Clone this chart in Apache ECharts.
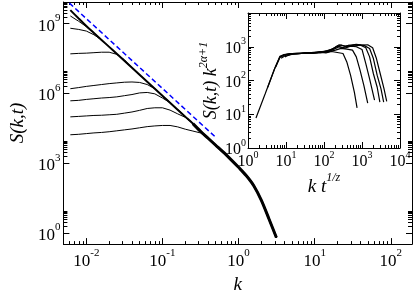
<!DOCTYPE html>
<html><head><meta charset="utf-8">
<script src="https://cdn.jsdelivr.net/npm/echarts@6/dist/echarts.min.js"></script>
<style>html,body{margin:0;padding:0;background:#fff}#c{width:415px;height:299px}</style>
</head><body><div id="c"></div>
<script>
// ---------- main panel data (log10 values) ----------
const mainLogK = [-2.21,-2.1,-2.0,-1.9,-1.8,-1.7,-1.6,-1.5,-1.4,-1.3,-1.2,-1.1,-1.0,-0.9,-0.8,-0.7,-0.6,-0.5,-0.4,-0.3,-0.2,-0.1,0.0,0.1,0.2,0.3,0.4,0.497];
const envelopeLogS = [9.58,9.22,8.9,8.6,8.3,8.0,7.7,7.4,7.1,6.8,6.5,6.2,5.9,5.6,5.3,5.0,4.7,4.37,4.07,3.77,3.47,3.15,2.82,2.47,2.03,1.4,0.6,-0.2];
const curveA_logS = [9.33,9.1,8.87];
const curveB_logS = [8.8,8.75,8.68,8.52,8.3];
const curveC_logS = [7.70,7.72,7.73,7.75,7.77,7.77,7.68,7.45];
const curveD_logS = [6.20,6.25,6.30,6.34,6.38,6.42,6.45,6.48,6.49,6.47,6.38,6.2];
const curveE_logS = [5.68,5.7,5.74,5.77,5.8,5.82,5.85,5.9,5.95,6.02,6.04,5.98,5.8,5.6];
const curveF_logS = [4.99,5.01,5.03,5.05,5.06,5.08,5.1,5.15,5.2,5.27,5.35,5.38,5.38,5.28,5.12,4.97,4.7];
const curveG_logS = [4.22,4.24,4.27,4.3,4.32,4.35,4.39,4.43,4.47,4.52,4.57,4.6,4.62,4.62,4.56,4.46,4.38,4.3,4.07];
const dashedK = [0.006, 0.5];
const dashedS = [7.6e9, 1.3e4];
const mainYMinorTicks = [2,3,4,5,6,7,8,9, 2e3,3e3,4e3,5e3,6e3,7e3,8e3,9e3, 2e6,3e6,4e6,5e6,6e6,7e6,8e6,9e6, 2e9,3e9,4e9,5e9,6e9,7e9,8e9];

// ---------- inset data: [log10(k t^{1/z}), log10(S k^{2a+1})] ----------
const insetC1 = [[0.21,0.89],[0.45,1.6],[0.7,2.35],[0.84,2.72],[0.95,2.77],[1.1,2.8],[1.3,2.79],[1.5,2.82],[1.7,2.81],[1.9,2.84],[2.05,2.82],[2.2,2.86],[2.35,2.83],[2.5,2.8],[2.6,2.55],[2.7,2.15],[2.8,1.65],[2.87,1.19]];
const insetC2 = [[0.52,1.8],[0.7,2.35],[0.84,2.7],[0.95,2.76],[1.1,2.79],[1.3,2.81],[1.5,2.8],[1.7,2.83],[1.9,2.82],[2.1,2.85],[2.3,2.9],[2.45,2.95],[2.6,2.93],[2.75,2.9],[2.85,2.7],[2.95,2.3],[3.05,1.85],[3.15,1.33]];
const insetC3 = [[0.73,2.4],[0.84,2.68],[0.95,2.75],[1.1,2.78],[1.3,2.8],[1.5,2.82],[1.7,2.8],[1.9,2.84],[2.1,2.86],[2.25,2.92],[2.4,3.0],[2.55,2.96],[2.7,3.02],[2.85,3.0],[3.0,2.92],[3.1,2.5],[3.2,2.05],[3.33,1.42]];
const insetC4 = [[0.87,2.66],[1.0,2.75],[1.2,2.79],[1.4,2.8],[1.6,2.83],[1.8,2.82],[2.0,2.85],[2.2,2.9],[2.35,3.02],[2.5,2.97],[2.65,3.04],[2.8,3.02],[2.95,3.05],[3.1,2.97],[3.2,2.7],[3.3,2.2],[3.4,1.8],[3.47,1.36]];
const insetC5 = [[0.97,2.7],[1.1,2.77],[1.3,2.8],[1.5,2.81],[1.7,2.82],[1.9,2.85],[2.1,2.88],[2.3,2.98],[2.45,3.05],[2.6,3.0],[2.75,3.04],[2.9,3.06],[3.05,3.04],[3.2,2.95],[3.3,2.65],[3.4,2.15],[3.5,1.75],[3.57,1.36]];
const insetC6 = [[1.05,2.74],[1.2,2.79],[1.4,2.8],[1.6,2.82],[1.8,2.84],[2.0,2.86],[2.2,2.92],[2.4,3.06],[2.55,3.02],[2.7,3.05],[2.85,3.07],[3.0,3.05],[3.15,3.06],[3.28,2.97],[3.38,2.65],[3.48,2.2],[3.58,1.75],[3.65,1.38]];

const FONT = 'Liberation Serif';
const p10 = e => Math.pow(10, e);
function mainCurve(own){
  const full = own.concat(envelopeLogS.slice(own.length));
  return mainLogK.map((lk, i) => [p10(lk), p10(full[i])]);
}
function insetCurve(arr){ return arr.map(d => [p10(d[0]), p10(d[1])]); }
function supLabel(v){
  const l = Math.log10(v), e = Math.round(l);
  if (Math.abs(l - e) > 1e-6) return '';
  return '{b|10}{s|' + e + '}';
}
const rich = {
  b: {fontFamily: FONT, fontSize: 17, lineHeight: 22, verticalAlign: 'bottom', color: '#000'},
  s: {fontFamily: FONT, fontSize: 11, verticalAlign: 'top', color: '#000'}
};
const richSmall = {
  b: {fontFamily: FONT, fontSize: 16, lineHeight: 20, verticalAlign: 'bottom', color: '#000'},
  s: {fontFamily: FONT, fontSize: 10, verticalAlign: 'top', color: '#000'}
};
const line = {show: true, lineStyle: {color: '#000', width: 1}};

function logAxis(extra){
  return Object.assign({
    type: 'log', logBase: 10, axisLine: line,
    axisTick: {show: true, inside: true, length: 6, lineStyle: {color: '#000'}},
    minorTick: {show: true, splitNumber: 9, length: 3, lineStyle: {color: '#000'}},
    splitLine: {show: false}, minorSplitLine: {show: false},
    axisLabel: {show: false}
  }, extra);
}

const mainXRange = {min: 0.005, max: 190};
const mainYRange = {min: 0.33, max: 8.5e9};
const insetXRange = {min: 1, max: 1e4};
const insetYRange = {min: 1, max: 1e4};

const mainSeries = [curveA_logS, curveB_logS, curveC_logS, curveD_logS, curveE_logS, curveF_logS, curveG_logS].map(c => ({
  type: 'line', xAxisIndex: 0, yAxisIndex: 0, data: mainCurve(c), showSymbol: false,
  lineStyle: {color: '#000', width: 1}, silent: true, z: 3
}));
const tailStart = mainLogK.indexOf(-0.6);

const chart = echarts.init(document.getElementById('c'), null, {renderer: 'canvas'});
chart.setOption({
  animation: false,
  backgroundColor: '#fff',
  grid: [
    {left: 46, top: 2, right: 3, bottom: 40},
    {left: 248, top: 13, right: 15, bottom: 151}
  ],
  xAxis: [
    logAxis(Object.assign({gridIndex: 0, position: 'bottom',
      axisLabel: {show: true, formatter: supLabel, rich: rich, margin: 4},
      name: 'k', nameLocation: 'middle', nameGap: 21,
      nameTextStyle: {fontFamily: FONT, fontSize: 19, fontStyle: 'italic', color: '#000'}}, mainXRange)),
    logAxis(Object.assign({gridIndex: 0, position: 'top'}, mainXRange)),
    logAxis(Object.assign({gridIndex: 1, position: 'bottom',
      axisLabel: {show: true, formatter: supLabel, rich: richSmall, margin: 2},
      name: '{i|k t}{s|1/z}', nameLocation: 'middle', nameGap: 24,
      nameTextStyle: {rich: {
        i: {fontFamily: FONT, fontSize: 19, fontStyle: 'italic', lineHeight: 24, verticalAlign: 'bottom', color: '#000'},
        s: {fontFamily: FONT, fontSize: 12, fontStyle: 'italic', verticalAlign: 'top', color: '#000'}}}}, insetXRange)),
    logAxis(Object.assign({gridIndex: 1, position: 'top'}, insetXRange))
  ],
  yAxis: [
    logAxis(Object.assign({gridIndex: 0, position: 'left', logBase: 1000, minorTick: {show: false},
      axisLabel: {show: true, formatter: supLabel, rich: rich, margin: 3},
      name: 'S(k,t)', nameLocation: 'middle', nameGap: 25, nameRotate: 90,
      nameTextStyle: {fontFamily: FONT, fontSize: 19, fontStyle: 'italic', color: '#000'}}, mainYRange)),
    logAxis(Object.assign({gridIndex: 0, position: 'right', logBase: 1000, minorTick: {show: false}}, mainYRange)),
    logAxis(Object.assign({gridIndex: 1, position: 'left',
      axisLabel: {show: true, rich: richSmall, margin: 2, formatter: v => (Math.round(Math.log10(v)) === 4 ? '' : supLabel(v))},
      name: '{i|S(k,t) k}{s|2α+1}', nameLocation: 'middle', nameGap: 28, nameRotate: 90,
      nameTextStyle: {rich: {
        i: {fontFamily: FONT, fontSize: 18, fontStyle: 'italic', lineHeight: 22, verticalAlign: 'bottom', color: '#000'},
        s: {fontFamily: FONT, fontSize: 12, fontStyle: 'italic', verticalAlign: 'top', color: '#000'}}}}, insetYRange)),
    logAxis(Object.assign({gridIndex: 1, position: 'right'}, insetYRange))
  ],
  series: [
    {type: 'custom', xAxisIndex: 0, yAxisIndex: 0, silent: true, z: 1,
     data: mainYMinorTicks.map(v => [1, v]),
     renderItem: function(params, api){
       const y = Math.round(api.coord([1, api.value(1)])[1]) + 0.5;
       const cs = params.coordSys;
       return {type: 'group', children: [
         {type: 'line', shape: {x1: cs.x, y1: y, x2: cs.x + 4, y2: y}, style: {stroke: '#000', lineWidth: 1}},
         {type: 'line', shape: {x1: cs.x + cs.width, y1: y, x2: cs.x + cs.width - 4, y2: y}, style: {stroke: '#000', lineWidth: 1}}
       ]};
     }},
    {type: 'line', xAxisIndex: 0, yAxisIndex: 0, silent: true, showSymbol: false, z: 2,
     data: dashedK.map((k, i) => [k, dashedS[i]]),
     lineStyle: {color: '#0000ff', width: 1.5, type: [5, 3]}},
    {type: 'line', xAxisIndex: 0, yAxisIndex: 0, silent: true, showSymbol: false, z: 4, smooth: 0.3,
     data: mainLogK.map((lk, i) => [p10(lk), p10(envelopeLogS[i])]),
     lineStyle: {color: '#000', width: 2}},
    {type: 'line', xAxisIndex: 0, yAxisIndex: 0, silent: true, showSymbol: false, z: 5, smooth: 0.3,
     data: mainLogK.slice(tailStart).map((lk, i) => [p10(lk), p10(envelopeLogS[tailStart + i])]),
     lineStyle: {color: '#000', width: 3}}
  ].concat(mainSeries).concat([insetC1, insetC2, insetC3, insetC4, insetC5, insetC6].map(c => ({
    type: 'line', xAxisIndex: 2, yAxisIndex: 2, data: insetCurve(c), showSymbol: false, silent: true,
    lineStyle: {color: '#000', width: 1.2}
  })))
});
</script></body></html>
